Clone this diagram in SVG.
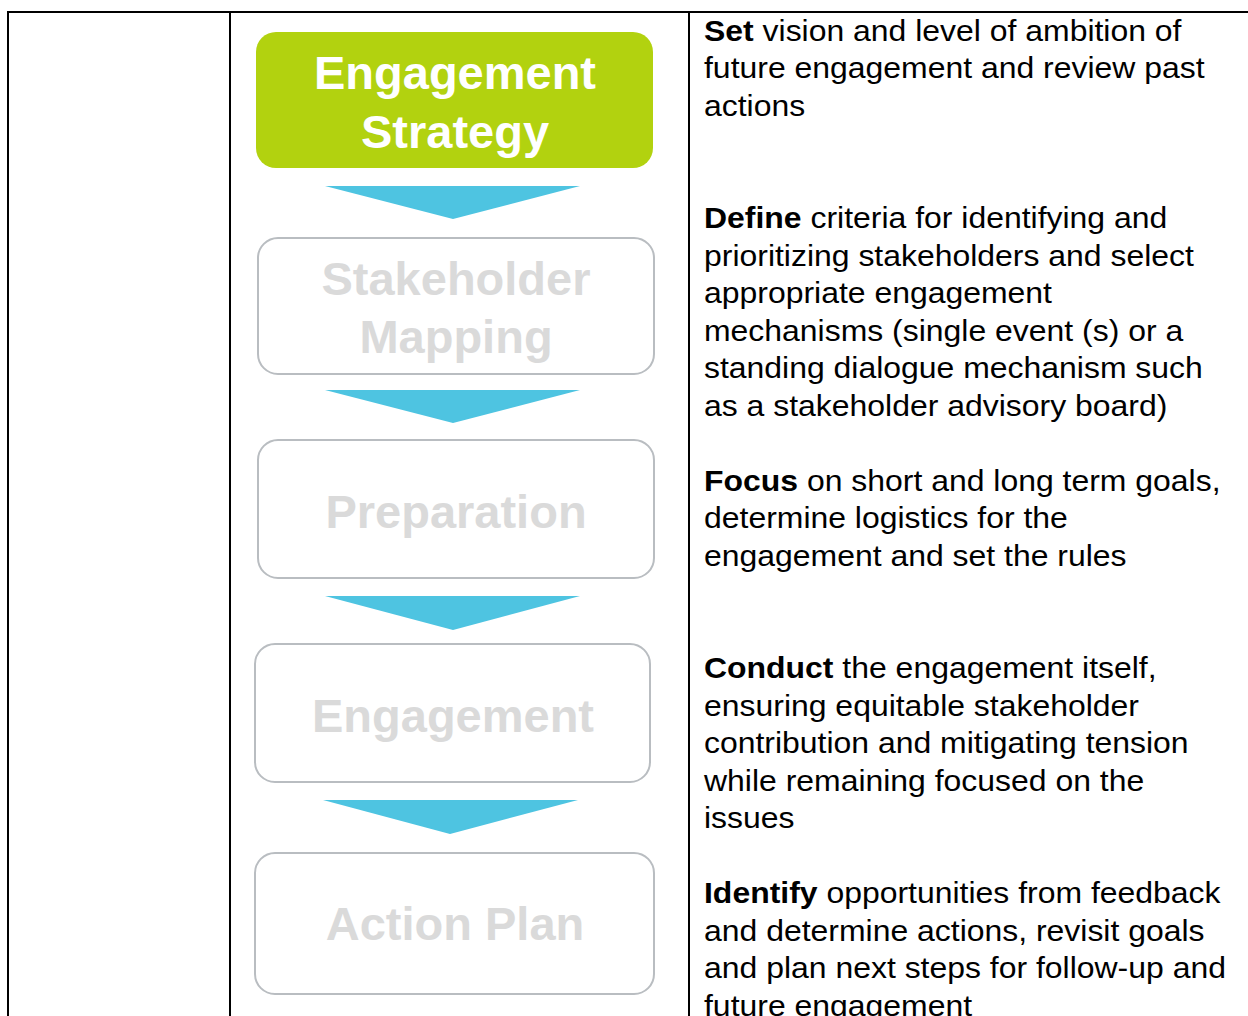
<svg xmlns="http://www.w3.org/2000/svg" width="1248" height="1016" viewBox="0 0 1248 1016">
<style>
.grid{stroke:#000;stroke-width:2;fill:none}
.box{fill:#fff;stroke:#b9bdc1;stroke-width:2}
.lbl{font-family:"Liberation Sans",Arial,sans-serif;font-weight:bold;font-size:47px;text-anchor:middle;fill:#dadada}
.lblw{fill:#fff}
.arr{fill:#4ec4e1}
.desc{font-family:"Liberation Sans",Arial,sans-serif;font-size:29.5px;fill:#000}
.b{font-weight:bold}
</style>
<rect width="1248" height="1016" fill="#fff"/>
<g id="table">
<line class="grid" x1="8" y1="12" x2="1248" y2="12"/>
<line class="grid" x1="8" y1="11" x2="8" y2="1016"/>
<line class="grid" x1="230" y1="11" x2="230" y2="1016"/>
<line class="grid" x1="689" y1="11" x2="689" y2="1016"/>
</g>
<g id="connectors">
<polygon class="arr" points="325,186 580,186 453,219"/>
<polygon class="arr" points="325,390 580,390 453,423"/>
<polygon class="arr" points="325,596 580,596 453,630"/>
<polygon class="arr" points="323,800 578,800 450,834"/>
</g>
<g id="n1">
<rect x="256" y="32" width="397" height="136" rx="20" fill="#b2d20f"/>
<text class="lbl lblw" x="455" y="89">Engagement</text>
<text class="lbl lblw" x="455" y="148">Strategy</text>
</g>
<g id="n2">
<rect class="box" x="258" y="238" width="396" height="136" rx="20"/>
<text class="lbl" x="456" y="295">Stakeholder</text>
<text class="lbl" x="456" y="353">Mapping</text>
</g>
<g id="n3">
<rect class="box" x="258" y="440" width="396" height="138" rx="20"/>
<text class="lbl" x="456" y="528">Preparation</text>
</g>
<g id="n4">
<rect class="box" x="255" y="644" width="395" height="138" rx="20"/>
<text class="lbl" x="453" y="732">Engagement</text>
</g>
<g id="n5">
<rect class="box" x="255" y="853" width="399" height="141" rx="20"/>
<text class="lbl" x="455" y="940">Action Plan</text>
</g>
<g id="descriptions" class="desc" transform="translate(704 0) scale(1.083 1)">
<g id="d1">
<text x="0" y="41"><tspan class="b">Set</tspan> vision and level of ambition of</text>
<text x="0" y="78.5">future engagement and review past</text>
<text x="0" y="116">actions</text>
</g>
<g id="d2">
<text x="0" y="228.5"><tspan class="b">Define</tspan> criteria for identifying and</text>
<text x="0" y="266">prioritizing stakeholders and select</text>
<text x="0" y="303.5">appropriate engagement</text>
<text x="0" y="341">mechanisms (single event (s) or a</text>
<text x="0" y="378.5">standing dialogue mechanism such</text>
<text x="0" y="416">as a stakeholder advisory board)</text>
</g>
<g id="d3">
<text x="0" y="491"><tspan class="b">Focus</tspan> on short and long term goals,</text>
<text x="0" y="528.5">determine logistics for the</text>
<text x="0" y="566">engagement and set the rules</text>
</g>
<g id="d4">
<text x="0" y="678.5"><tspan class="b">Conduct</tspan> the engagement itself,</text>
<text x="0" y="716">ensuring equitable stakeholder</text>
<text x="0" y="753.5">contribution and mitigating tension</text>
<text x="0" y="791">while remaining focused on the</text>
<text x="0" y="828.5">issues</text>
</g>
<g id="d5">
<text x="0" y="903.5"><tspan class="b">Identify</tspan> opportunities from feedback</text>
<text x="0" y="941">and determine actions, revisit goals</text>
<text x="0" y="978.5">and plan next steps for follow-up and</text>
<text x="0" y="1016">future engagement</text>
</g>
</g>
</svg>
